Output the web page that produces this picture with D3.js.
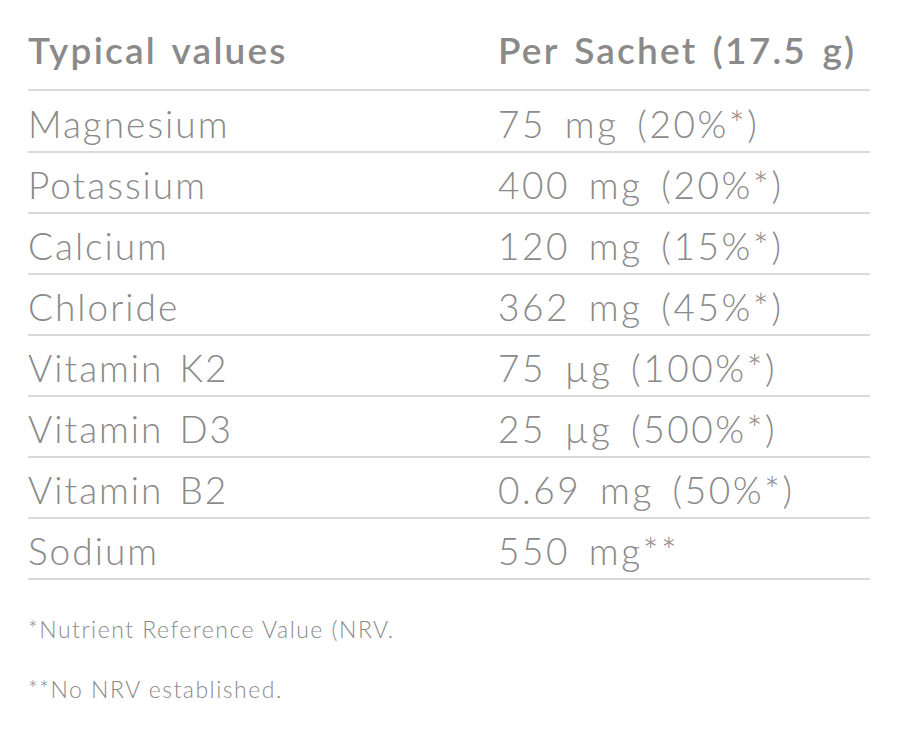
<!DOCTYPE html>
<html>
<head>
<meta charset="utf-8">
<script src="https://cdn.jsdelivr.net/npm/d3@7"></script>
<style>
  body { margin: 0; background: #fff; }
  text { font-family: Lato, "Open Sans", sans-serif; fill: #8a8a8a; }
</style>
</head>
<body>
<div id="chart"></div>
<script>
var headers = ['Typical values', 'Per Sachet (17.5 g)'];
var nutrients = ['Magnesium', 'Potassium', 'Calcium', 'Chloride', 'Vitamin K2', 'Vitamin D3', 'Vitamin B2', 'Sodium'];
var amounts = ['75 mg (20%*)', '400 mg (20%*)', '120 mg (15%*)', '362 mg (45%*)', '75 µg (100%*)', '25 µg (500%*)', '0.69 mg (50%*)', '550 mg**'];
var footnotes = ['*Nutrient Reference Value (NRV.', '**No NRV established.'];

var width = 900, height = 751;
var left = 28, right = 870, col2 = 498;

var svg = d3.select('#chart')
    .append('svg')
    .attr('width', width)
    .attr('height', height);

// rows sit between the header rule and the last rule
var y = d3.scaleBand()
    .domain(nutrients)
    .range([91, 579])
    .padding(0);

// header
svg.selectAll('.head')
    .data(headers)
    .enter()
    .append('text')
    .attr('class', 'head')
    .attr('x', function(d, i) { return i ? col2 : left; })
    .attr('y', 64)
    .attr('font-size', 37)
    .attr('font-weight', 600)
    .attr('letter-spacing', 2.2)
    .attr('word-spacing', 4)
    .text(function(d) { return d; });

svg.append('line')
    .attr('x1', left).attr('x2', right)
    .attr('y1', 90).attr('y2', 90)
    .attr('stroke', '#dadada')
    .attr('stroke-width', 2);

var rows = svg.selectAll('.row')
    .data(nutrients)
    .enter()
    .append('g')
    .attr('class', 'row')
    .attr('transform', function(d) { return 'translate(0,' + y(d) + ')'; });

rows.append('text')
    .attr('x', left)
    .attr('y', y.bandwidth() - 14)
    .attr('font-size', 37)
    .attr('font-weight', 300)
    .attr('letter-spacing', 2)
    .attr('word-spacing', 4)
    .text(function(d) { return d; });

rows.append('text')
    .attr('x', col2)
    .attr('y', y.bandwidth() - 14)
    .attr('font-size', 37)
    .attr('font-weight', 300)
    .attr('letter-spacing', 2.6)
    .attr('word-spacing', 6)
    .text(function(d, i) { return amounts[i]; });

rows.append('line')
    .attr('x1', left).attr('x2', right)
    .attr('y1', y.bandwidth()).attr('y2', y.bandwidth())
    .attr('stroke', '#dadada')
    .attr('stroke-width', 2);

// footnotes
svg.selectAll('.foot')
    .data(footnotes)
    .enter()
    .append('text')
    .attr('class', 'foot')
    .attr('x', left)
    .attr('y', function(d, i) { return 638 + i * 60; })
    .attr('font-size', 23)
    .attr('font-weight', 300)
    .attr('letter-spacing', 1.5)
    .text(function(d) { return d; });
</script>
</body>
</html>
